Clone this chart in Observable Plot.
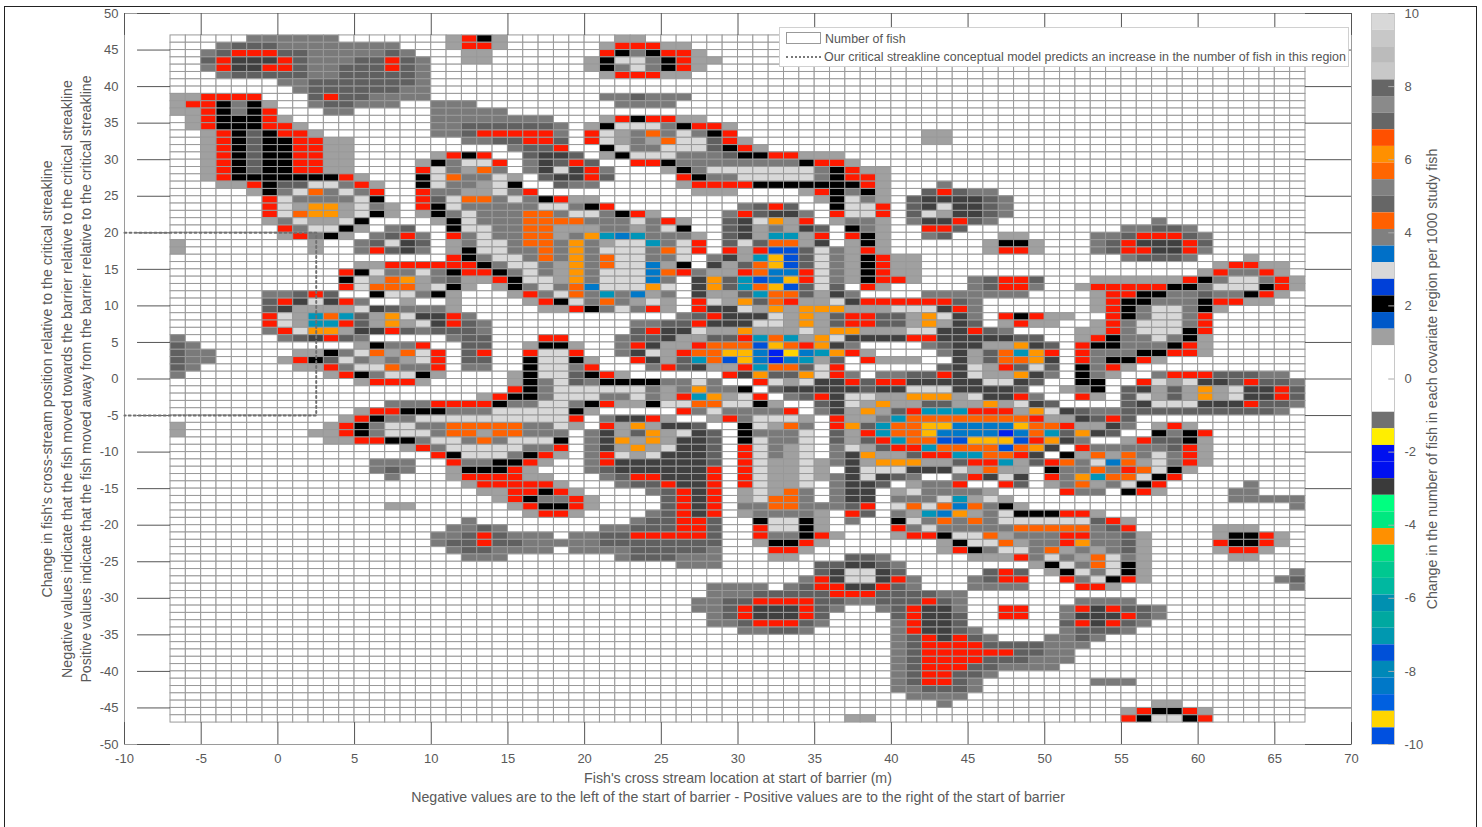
<!DOCTYPE html>
<html><head><meta charset="utf-8">
<script src="https://cdn.jsdelivr.net/npm/d3@7"></script>
<script src="https://cdn.jsdelivr.net/npm/@observablehq/plot@0.6"></script>
<style>
html,body{margin:0;padding:0;background:#fff;width:1482px;height:827px;overflow:hidden}
#wrap{position:relative;width:1482px;height:827px;font-family:"Liberation Sans",Arial,sans-serif}
#outer{position:absolute;left:4px;top:6px;width:1473px;height:840px;border:1px solid #222;box-sizing:border-box}
#legend{position:absolute;left:779px;top:27px;width:570px;height:40px;background:#fff;border:1px solid #d0d0d0;box-sizing:border-box;font-size:12.4px;color:#555;white-space:nowrap}
#legend .sw{position:absolute;left:6px;top:4px;width:35px;height:12px;border:1px solid #999;box-sizing:border-box}
#legend .dots{position:absolute;left:6px;top:28px;width:35px;border-top:2px dotted #777}
#legend .t1{position:absolute;left:45px;top:4px}
#legend .t2{position:absolute;left:44px;top:22px;font-size:12.45px}
</style></head>
<body><div id="wrap"><div id="outer"></div></div>
<script>
const xTicks = d3.range(-10, 71, 5);
const yTicks = d3.range(-50, 51, 5);
const barTicks = d3.range(-10, 11, 2);
const streakX = [-10, 2.5, 2.5, -10];
const streakY = [20, 20, -5, -5];
const codes  = [".","a","b","g","d","e","k","r","o","y","u","Y","t","c","B","N"];
const colors = ["#ffffff","#d8d8d8","#a0a0a0","#7a7a7a","#606060","#404040","#000000","#ff1a00","#ff6200","#ff9600","#ffb800","#ffd500","#0095b8","#0078c8","#0050d8","#0020f0"];
const barColors = ["#d8d8d8","#c8c8c8","#bbbbbb","#c8c8c8","#666666","#8a8a8a","#666666","#ff5000","#ff9000","#ff6600","#808080","#666666","#ff6000","#808080","#0070c8","#d8d8d8","#0040d8","#000000","#0058c8","#a0a0a0","#ffffff","#ffffff","#ffffff","#ffffff","#707070","#ffee00","#0010f0","#0010f0","#3a3a3a","#00ff80","#00e880","#ff9000","#00e080","#00c890","#00b8a0","#0090b0","#00a8a0","#0098b0","#0050d8","#0088b8","#0078c8","#0060e0","#ffd500","#0050e0"];
// one entry per row, top (y = 47) to bottom (y = -47); "column:codes", column 0 is x = -7
const rows = [
"5:gggggg 18:brkb 29:bb",
"3:gdddgggggggg 18:brrb 28:brrrbb",
"2:gdrrrddgggggdg 19:bb 28:rkgkrrb",
"2:dreeerdgggddrdg 19:bb 27:bkaagkrbb",
"2:greerrdggdddrdg 27:bkgagkrb",
"3:gdddddggdddddg 28:brrrbb",
"7:ggdddddddg",
"8:gddddddgg",
"0:bbrrrr 9:drddgggg 28:ggdggg",
"0:brrkgkb 9:gddggg 17:ggg 29:gggg",
"0:bbrkgkr 10:gg 17:ggggg",
"1:brkkkrb 17:gggggggg 28:brkrrbb",
"1:brkkkrrb 17:ggdddddd 25:g 27:bkaaagkrrb",
"2:brkdkrrb 17:ggdrrrrr 25:g 27:rabgogagkr 49:bb",
"2:brkdkkrrbb 19:ggddrr 25:d 27:rabgboaadrb 49:bb",
"2:brkdkkrrbb 22:gdd 25:r 28:kaggaaadkrb",
"2:brkdkkrrbb 17:brkr 23:de 25:ed 28:bkaaagggdkkrrbbb",
"2:brkdkkrrbb 16:bkgaar 23:ge 25:drd 30:rrkggggggggkrrb",
"2:brkdkkrrbb 16:ragbog 23:ge 25:aerg 32:bkgaaaaaaagkrbb",
"2:brkkkkkkkrb 16:kaoggab 24:deerd 33:rkggaaaaagkrrb",
"3:bbrkddaagrb 16:kaggbak 25:dgg 33:brrrrkkkkkkkrb 50:g",
"5:bkgaogagr 16:rggbbagr 34:bbb 41:brkgkb 49:drdgg",
"6:raggggak 16:rdaoogagk 25:rbb 42:bkagb 48:deeeedg",
"6:rabyybagb 16:rkagggggaagkr 37:gdrd 43:kaar 48:deaeedg",
"6:raoyybakb 16:bkgagggoogaagkrb 36:grdeeg 43:raar 48:dabeedg",
"6:bgabbak 17:bkagggoooogggagrb 36:deaybr 43:bggb 48:geerdg 64:g",
"7:rgaakb 14:gd 18:kaaggoobbbggbgak 36:debgbed 44:kgb 49:rrd 62:ggddg",
"7:brgkb 13:gdrg 18:rgaggoobgytctgggb 36:debttbr 44:rkb 49:gd 54:bb 60:ggdrrrdg",
"0:b 9:b 12:gdaed 18:bgaagoogygbaatgar 36:dadoobe 44:bkb 53:bkkb 60:gdreeerd",
"0:b 9:b 12:grdeg 18:bkaaggogygaaagoar 36:rbrBBdagbrb 53:brrb 60:gdrreerg",
"18:rkgaagogygoaagga 35:gebtuBdagbkrbb 62:gdddg 70:b",
"12:bbrrrrrrkgaagbygoaacbk 35:ebdouBdagbkrbb 68:brrbb",
"11:rkaggagkrrkgagbygaaacorgbbroccragbkrbb 67:brggrb",
"11:kaboybgdbbrkaabygaaacg.eydtBcuragbkrrb 52:gdrrd 60:bbbbbbrkgaagrb",
"11:raooobakb.bkgagocaaaya.eydtouBdad.rb 52:gdrrg 59:brrrrrkkgaaakrb",
"6:ggdrd 13:kaagkb 22:brgaogtgcbg 34:ebbdtoodbeg 49:ggggggg 60:brrkkggdggkrb",
"6:dreaerg 15:b 18:b 23:brkagogbab 34:rabydorbbaerrrrrrdg 60:brkkgggkrrbb",
"6:debbbbaedgggb 24:bbrkgagrb 34:reeabybyyybbbaaaerg 60:brkgaagkb",
"6:rabtotdbyaeerg 33:gdreeeabybdrrddbyaeg 54:rkrbb 61:rkgaagr",
"6:rabttrdbybaerdg 30:ggddreeeaabybdrrddbybed 54:brbb 60:brgaaagr",
"6:grayybeerdgdddg 30:dreeabbybbbabyybbbaaeerdg 59:bbrgaaakr",
"0:g 7:gderdg 18:gdd 24:rr 29:gddebbddrtotbyaeeeerreeeeedd 59:brkggagkb",
"0:dg 12:bkggr 19:dd 23:bkkb 29:grebbroooBuoryeg 49:gdeebbyed 59:rkkgggkrb",
"0:dgg 8:bbkgaoboar 19:dr 23:raar 29:geabroouucNYctyr 45:b 50:gebdotyr 59:rgggkkrrb",
"0:dgg 7:brkdagbgbar 19:dd 23:kaakb 30:rebdtoBucNctbd 45:rbbb 51:ebdooye 59:rgkkrb",
"0:dg 8:bbrgaaoggr 19:gg 23:kaagr 31:grdebbrtoodar 50:deabrdad 59:kgrb",
"0:g 10:brkgaakb 22:bkaadkrb 36:reyddyarg 46:ggddreabbyeg 59:kgb 64:grrrdddgg",
"12:brrrb 22:bkgadgkkkkggag 38:rabaeerdrreeeeeaaed 59:kk 63:rabaeedrddg",
"22:rkgaaaaaagbgyggk 39:deeeeedeeaaaeeeed 58:bgk 62:debdbybaeerd",
"20:brkkgaaaggagbrtybar 40:gdreaabbyyybaeerg 59:rb 62:dabdbybaeerd",
"14:gggrrrrkggaagkrbbkaaooaakb 42:deabybbddbbybaed 62:deaaaeeerddg",
"12:brrkkkgggaaaaakb 33:rgaggggr 42:gebybdrtttrrrbyaedggddddddddddg",
"11:brkggaaaaaaaaaar 28:geerb 35:brgaaab 43:rbbgtoooooooorbbedrd",
"0:b 10:brkgaaggoooooggab 28:rbybeed 37:kabog 43:rydtoouuccccuoorbbeg 64:brb",
"0:b 9:bbrkgaaagoobooggg 27:gebdybaed 37:kggga 43:dbrtoouccccNcotdyed 64:kgkr",
"10:bbrrkkgaagogaaak 27:geybybeed 37:kagga 43:dbdrtooBBuuuBryeg 62:brddkb",
"15:brgaaaaaggr 27:gebybaeed 37:ragba 43:gabdrrtooooBoye 59:rgggggdrb",
"17:rkaaagkrb 27:grabaeeed 37:ragba 43:geybbdrrttoore 58:kbobogagrb",
"13:ggg 18:rggkkrb 27:greeeeeed 37:rabbabgebyyybbdrrtbdrogacobagrb",
"13:gdg 18:bkkkrb 27:gdeeeeeer 37:rabbab 44:eaaaeeeabobb 57:kggogroakb",
"14:g 18:brrrrbb 28:gdrreeer 37:rabbabgeaedg 51:greae 57:rgytooakr",
"19:brrrrrb 29:gddreer 37:rabba 43:geed 48:bggr 54:rd 57:bgobgakr 70:g",
"20:bbrrkrb 31:gdrer 37:babog 43:gee 47:baggggb 58:rgg 62:krb 69:gg",
"21:brkggrb 32:drer 37:baoog 43:gee 47:gggatbab 69:ggggg",
"14:bb 22:brkkrb 32:drer 37:ggoogggdr 47:aoaocogkb 73:g",
"23:brrb 31:gdrer 37:bggggb 44:rd 47:gbtcybgakkkrrb",
"19:g 30:gddrrd 38:kaakb 44:g 47:kagogogaaaaaadrb",
"18:ggdg 28:ggdddrrd 38:raakb 47:rgagggggooooogdr 68:bbb",
"17:ggdrdggg 26:ggddrrrrrd 38:rggkrb 47:brrkaaobgggrrggdb 68:bkkrb",
"17:gddrddggg 26:ggdddddddd 38:bkkrb 50:bkaaobggryggdb 68:rkkrb",
"18:gddgggg 26:ggggdddddg 39:rrb 50:brkgaagobgbgdb 68:brrb",
"19:ggg 29:gdddggg 39:bb 44:ddg 52:bbbrgagboagb 69:bb",
"33:ggg 42:ddeedg 56:bkagoakb",
"42:deaaed 53:drd 57:bkagakb 73:g",
"41:greaaerg 52:gdrr 58:rgakrb 72:gd",
"35:gggg 40:gdrreerdg 52:gggg 59:rrb 73:g",
"35:gggdddddrrrddddgg",
"34:ggddrrrrddggdddrdg 59:gggg",
"34:ggdreeerdg 46:gdreeg 54:rr 58:grerddg",
"35:gdreeerd 47:dreed 54:rr 58:geeerdg",
"35:ggdrrrdg 47:greed 58:drerdg",
"37:ggddg 47:greedg 58:gdddg",
"47:gdrerdg 57:ggdg",
"47:gdrrrrddddggg",
"47:gdrrrrrrddgg",
"47:gdrrrrdddggg",
"47:gdrrrddgggg",
"47:gdrrddg",
"47:gdrrdg 60:ggg",
"47:ggdddg",
"48:gggg",
"50:g 64:bb",
"62:brkkrb",
"44:bb 62:rkaakr"
];

const cells = [];
rows.forEach((row, i) => {
  const line = new Array(74).fill(".");
  row.split(" ").filter(Boolean).forEach(seg => {
    const [c, s] = seg.split(":");
    [...s].forEach((ch, k) => { if (+c + k < 74) line[+c + k] = ch; });
  });
  line.forEach((code, j) => cells.push({x1: j - 7, x2: j - 6, y1: 46 - i, y2: 47 - i, code}));
});
const streak = streakX.map((x, i) => ({x, y: streakY[i]}));
const bands = barColors.map((c, i) => ({y2: 10 - i * 20 / barColors.length, y1: 10 - (i + 1) * 20 / barColors.length, c}));
const ink = "#595959";
const txt = {fill: ink, fontSize: 14.2, textAnchor: "middle", lineAnchor: "middle"};
const plain = d => String(d);

const main = Plot.plot({
  width: 1482, height: 827,
  marginLeft: 124, marginRight: 131, marginTop: 13, marginBottom: 83,
  style: {background: "transparent", fontFamily: "'Liberation Sans',Arial,sans-serif", fontSize: "13px", color: ink},
  x: {domain: [-10, 70], label: null},
  y: {domain: [-50, 50], label: null},
  color: {type: "ordinal", domain: codes, range: colors, legend: false},
  marks: [
    Plot.rect(cells, {x1: "x1", x2: "x2", y1: "y1", y2: "y2", fill: "code", stroke: "#999999", strokeWidth: 1}),
    Plot.frame({stroke: "#9a9a9a"}),
    Plot.ruleX(xTicks, {y1: 50, y2: 47, stroke: "#555"}),
    Plot.ruleX(xTicks, {y1: -50, y2: -47, stroke: "#555"}),
    Plot.ruleY(yTicks, {x1: -9.15, x2: -7, stroke: "#555"}),
    Plot.ruleY(yTicks, {x1: 67, x2: 70, stroke: "#555"}),
    Plot.line(streak, {x: "x", y: "y", stroke: "#707070", strokeWidth: 2, strokeDasharray: "2 3"}),
    Plot.axisX(xTicks, {anchor: "bottom", tickSize: 0, tickPadding: 9, fontSize: 13, label: null, tickFormat: plain}),
    Plot.axisY(yTicks, {anchor: "left", tickSize: 0, tickPadding: 6, fontSize: 13, label: null, tickFormat: plain}),
    Plot.text(["Fish's cross stream location at start of barrier (m)"], {frameAnchor: "bottom", dy: 34, ...txt}),
    Plot.text(["Negative values are to the left of the start of barrier - Positive values are to the right of the start of barrier"], {frameAnchor: "bottom", dy: 53, ...txt}),
    Plot.text(["Change in fish's cross-stream position relative to the critical streakline"], {frameAnchor: "left", dx: -77, rotate: -90, ...txt}),
    Plot.text(["Negative values indicate that the fish moved towards the barrier relative to the critical streakline"], {frameAnchor: "left", dx: -57, rotate: -90, ...txt}),
    Plot.text(["Positive values indicate that the fish moved away from the barrier relative to the critical streakline"], {frameAnchor: "left", dx: -38, rotate: -90, ...txt})
  ]
});

const bar = Plot.plot({
  width: 100, height: 827,
  marginLeft: 0, marginRight: 77, marginTop: 13, marginBottom: 83,
  style: {background: "transparent", fontFamily: "'Liberation Sans',Arial,sans-serif", fontSize: "13px", color: ink, position: "absolute", left: "1371px", top: "0px", overflow: "visible"},
  x: {domain: [0, 1], axis: null},
  y: {domain: [-10, 10], label: null},
  marks: [
    Plot.rect(bands, {x1: 0, x2: 1, y1: "y1", y2: "y2", fill: "c"}),
    Plot.frame({stroke: "#c8c8c8"}),
    Plot.ruleY(barTicks, {x1: 0.75, x2: 1, stroke: "#aaa"}),
    Plot.axisY(barTicks, {anchor: "right", tickSize: 0, tickPadding: 10, fontSize: 13, label: null, tickFormat: plain}),
    Plot.text(["Change in the number of fish in each covariate region per 1000 study fish"], {frameAnchor: "right", dx: 38, rotate: -90, ...txt})
  ]
});

const legend = document.createElement("div");
legend.id = "legend";
legend.innerHTML = '<div class="sw"></div><div class="t1">Number of fish</div><div class="dots"></div><div class="t2">Our critical streakline conceptual model predicts an increase in the number of fish in this region</div>';
const wrap = document.getElementById("wrap");
main.style.position = "absolute"; main.style.left = "0"; main.style.top = "0";
wrap.append(main, bar, legend);
</script>
</body></html>
